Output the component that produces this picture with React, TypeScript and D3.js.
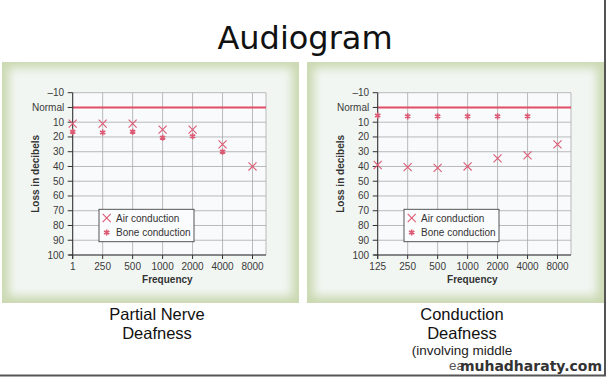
import React from "react";
import * as d3 from "d3";

const W = 609;
const H = 379;

const leftFreqs = ["1", "250", "500", "1000", "2000", "4000", "8000"];
const rightFreqs = ["125", "250", "500", "1000", "2000", "4000", "8000"];
const yTicks = [-10, 0, 10, 20, 30, 40, 50, 60, 70, 80, 90, 100];
const yTickLabels = ["\u201310", "Normal", "10", "20", "30", "40", "50", "60", "70", "80", "90", "100"];

const leftAir = [11, 11, 11, 15, 15, 25, 40];
const leftBone = [16.5, 17, 16.5, 20.5, 19.5, 30, null];
const rightAir = [39, 40.5, 41, 40, 34.5, 32.5, 25];
const rightBone = [5.5, 6, 6, 6, 6, 6, null];

const legendLabels = ["Air conduction", "Bone conduction"];
const title = "Audiogram";
const leftCaption = ["Partial Nerve", "Deafness"];
const rightCaption = ["Conduction", "Deafness"];
const rightNote = ["(involving middle", "ear)"];
const watermark = "muhadharaty.com";

const PINK = "#dd5a74";
const LINE = "#e24d68";

const symTimes = (d3 as any).symbolTimes || (d3 as any).symbolX;
const symAst = (d3 as any).symbolAsterisk;
const timesPath = d3.symbol(symTimes, 44)();
const astPath = d3.symbol(symAst, 26)();

type PanelProps = {
  dx: number;
  freqs: string[];
  air: (number | null)[];
  bone: (number | null)[];
};

function Panel({ dx, freqs, air, bone }: PanelProps) {
  const left = 72.7 + dx;
  const right = 266 + dx;
  const top = 92.7;
  const bottom = 255;
  const x = d3.scaleLinear().domain([0, 6.45]).range([left, right]);
  const y = d3.scaleLinear().domain([-10, 100]).range([top, bottom]);
  const font = "'Liberation Sans', Arial, sans-serif";
  const idx = d3.range(freqs.length);
  return (
    <g>
      <rect x={dx + 2} y={62} width={297} height={241} fill="#cbd9b2" />
      <rect
        x={dx + 9}
        y={68}
        width={283}
        height={228}
        fill="#f2f6f3"
        filter="url(#soft)"
      />
      <rect x={left} y={top} width={right - left} height={bottom - top} fill="#f8fafc" />
      {yTicks.map((t) => (
        <line key={"h" + t} x1={left} x2={right} y1={y(t)} y2={y(t)} stroke="#aaa" strokeWidth={0.8} />
      ))}
      {idx.map((i) => (
        <line key={"v" + i} x1={x(i)} x2={x(i)} y1={top} y2={bottom} stroke="#aaa" strokeWidth={0.8} />
      ))}
      <line x1={right} x2={right} y1={top} y2={bottom} stroke="#aaa" strokeWidth={0.8} />
      <line x1={left} x2={right} y1={y(0)} y2={y(0)} stroke={LINE} strokeWidth={2} />
      <line x1={left} x2={left} y1={top} y2={bottom + 4} stroke="#333" strokeWidth={1} />
      <line x1={left - 4} x2={right} y1={bottom} y2={bottom} stroke="#333" strokeWidth={1} />
      {yTicks.map((t, i) => (
        <g key={"yt" + t}>
          <line x1={left - 5} x2={left} y1={y(t)} y2={y(t)} stroke="#333" strokeWidth={1} />
          <text
            x={left - 8.5}
            y={y(t)}
            dy="0.35em"
            textAnchor="end"
            fontSize={10}
            fontFamily={font}
            fill="#3a3a3a"
          >
            {yTickLabels[i]}
          </text>
        </g>
      ))}
      {idx.map((i) => (
        <g key={"xt" + i}>
          <line x1={x(i)} x2={x(i)} y1={bottom} y2={bottom + 4} stroke="#333" strokeWidth={1} />
          <text x={x(i)} y={bottom + 15} textAnchor="middle" fontSize={10} fontFamily={font} fill="#3a3a3a">
            {freqs[i]}
          </text>
        </g>
      ))}
      <text
        x={(left + right) / 2 - 2}
        y={282.5}
        textAnchor="middle"
        fontSize={10}
        fontWeight="bold"
        fontFamily={font}
        fill="#333"
      >
        Frequency
      </text>
      <text
        transform={`translate(${dx + 38.5},${(top + bottom) / 2}) rotate(-90)`}
        textAnchor="middle"
        fontSize={10}
        fontWeight="bold"
        fontFamily={font}
        fill="#333"
      >
        Loss in decibels
      </text>
      {bone.map((v, i) =>
        v == null ? null : (
          <path
            key={"b" + i}
            d={astPath || ""}
            transform={`translate(${x(i)},${y(v)})`}
            fill="none"
            stroke={PINK}
            strokeWidth={1.6}
          />
        )
      )}
      {air.map((v, i) =>
        v == null ? null : (
          <path
            key={"a" + i}
            d={timesPath || ""}
            transform={`translate(${x(i)},${y(v)})`}
            fill="none"
            stroke={PINK}
            strokeWidth={1.1}
          />
        )
      )}
      <rect x={dx + 99} y={209.3} width={95} height={32.4} fill="#fbfcfd" stroke="#444" strokeWidth={0.9} />
      <path d={timesPath || ""} transform={`translate(${dx + 106.7},${218})`} fill="none" stroke={PINK} strokeWidth={1.1} />
      <path d={astPath || ""} transform={`translate(${dx + 106.7},${232.5})`} fill="none" stroke={PINK} strokeWidth={1.6} />
      {legendLabels.map((l, i) => (
        <text key={l} x={dx + 116} y={221.5 + i * 14.5} fontSize={10} fontFamily={font} fill="#333">
          {l}
        </text>
      ))}
    </g>
  );
}

export default function App() {
  const cap = "'Liberation Sans', Arial, sans-serif";
  return (
    <svg
      width={W}
      height={H}
      viewBox={`0 0 ${W} ${H}`}
      style={{ position: "absolute", left: 0, top: 0, background: "#fff" }}
    >
      <defs>
        <filter id="soft" x="-10%" y="-10%" width="120%" height="120%">
          <feGaussianBlur stdDeviation="5" />
        </filter>
      </defs>
      <rect x={0} y={0} width={W} height={H} fill="#fff" />
      <text
        x={305}
        y={49}
        textAnchor="middle"
        fontSize={32}
        fontFamily="'DejaVu Sans', sans-serif"
        fill="#111"
      >
        {title}
      </text>
      <Panel dx={0} freqs={leftFreqs} air={leftAir} bone={leftBone} />
      <Panel dx={305} freqs={rightFreqs} air={rightAir} bone={rightBone} />
      {leftCaption.map((t, i) => (
        <text key={t + i} x={157} y={320 + i * 19} textAnchor="middle" fontSize={16.5} fontFamily={cap} fill="#111">
          {t}
        </text>
      ))}
      {rightCaption.map((t, i) => (
        <text key={t + i} x={462} y={320 + i * 19} textAnchor="middle" fontSize={16.5} fontFamily={cap} fill="#111">
          {t}
        </text>
      ))}
      <text x={462} y={355} textAnchor="middle" fontSize={13.5} fontFamily={cap} fill="#222">
        {rightNote[0]}
      </text>
      <text x={449} y={370} textAnchor="start" fontSize={13.5} fontFamily={cap} fill="#555">
        {rightNote[1]}
      </text>
      <rect x={462} y={359} width={141} height={15} fill="#fff" opacity={0.9} />
      <text
        x={602}
        y={371}
        textAnchor="end"
        fontSize={14}
        fontWeight="bold"
        fontFamily="'DejaVu Sans', sans-serif"
        fill="#333"
      >
        {watermark}
      </text>
      <line x1={605} x2={605} y1={0} y2={376} stroke="#555" strokeWidth={2} />
      <line x1={0} x2={606} y1={375.5} y2={375.5} stroke="#555" strokeWidth={2} />
    </svg>
  );
}
